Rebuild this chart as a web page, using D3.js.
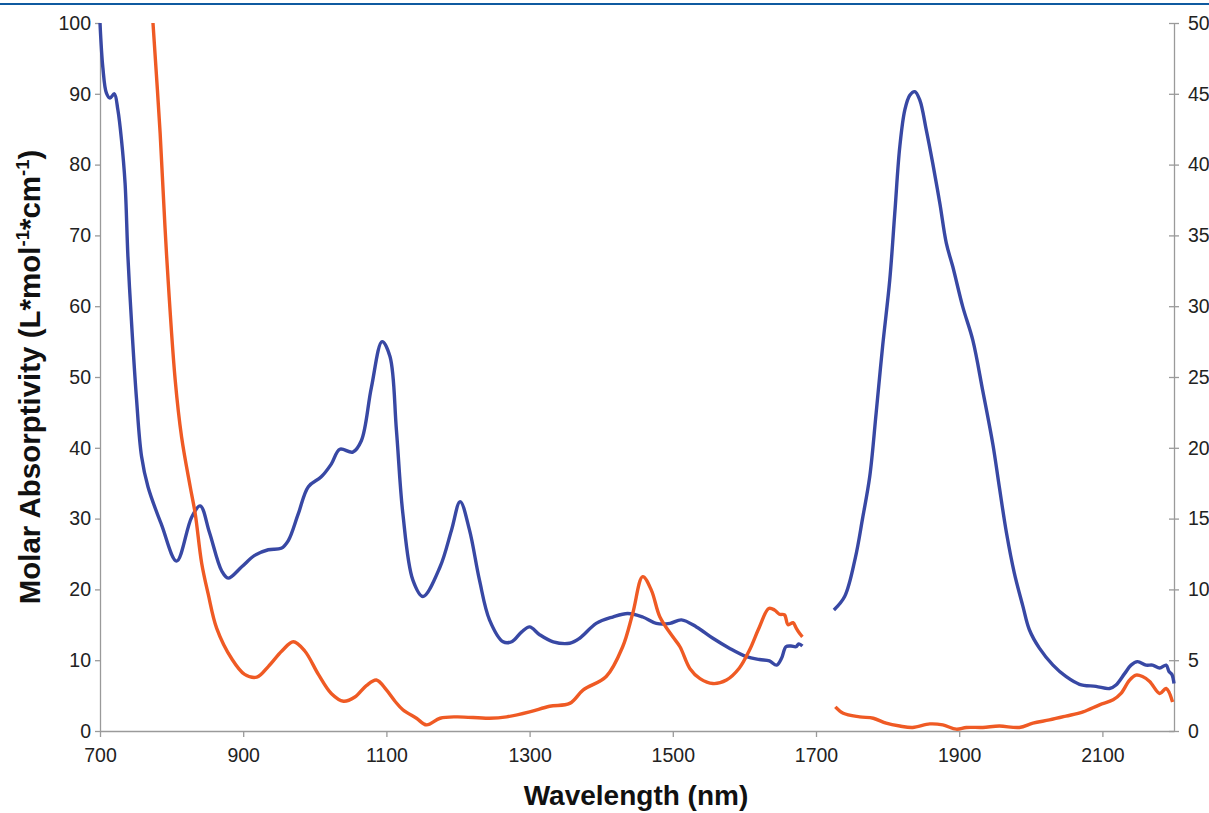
<!DOCTYPE html>
<html>
<head>
<meta charset="utf-8">
<script src="https://cdn.jsdelivr.net/npm/d3@7"></script>
<style>
  body { margin: 0; background: #fff; }
  svg { font-family: Arial, "Liberation Sans", Helvetica, sans-serif; }
</style>
</head>
<body>
<div id="chart"></div>
<script>
// wavelength (nm) / molar absorptivity, null = gap in the measurement
const blueNm = [700, 704, 709, 714, 720, 725, 730, 735, 739, 744, 751, 758, 767, 786, 807, 828, 840, 853, 870, 879,
  898, 916, 935, 953, 963, 977, 991, 1009, 1023, 1035, 1053, 1065, 1079, 1094, 1105, 1114, 1123, 1137, 1151, 1175,
  1191, 1203, 1216, 1230, 1244, 1263, 1275, 1289, 1300, 1314, 1333, 1356, 1370, 1393, 1416, 1437, 1458, 1477, 1496, 1512,
  1533, 1556, 1579, 1603, 1621, 1635, 1645, 1652, 1658, 1665, 1672, 1676, 1681, 1700,
  1725, 1740, 1755, 1765, 1775, 1784, 1793, 1803, 1810, 1817, 1824, 1831, 1838, 1845, 1854, 1863, 1873, 1882, 1891, 1905,
  1919, 1933, 1947, 1956, 1966, 1977, 1989, 1998, 2012, 2031, 2049, 2068, 2091, 2110, 2119, 2131, 2140, 2149, 2161, 2170,
  2180, 2189, 2193, 2197, 2200]
const blueVal = [100, 93.7, 90.1, 89.4, 90, 87.7, 83.5, 77.4, 67, 57.8, 46.9, 38.8, 34.5, 29.1, 24.0, 30.2, 31.8, 28, 22.6, 21.6,
  23.2, 24.8, 25.6, 25.8, 26.9, 30.7, 34.5, 35.9, 37.7, 39.8, 39.4, 41, 48.5, 55, 52.9, 42.5, 30.7, 21.3, 19.0, 23.2,
  28.4, 32.4, 28.4, 21.3, 15.7, 12.6, 12.6, 14.0, 14.7, 13.6, 12.6, 12.4, 13.1, 15.2, 16.1, 16.6, 16.1, 15.2, 15.2, 15.7,
  14.7, 13.1, 11.7, 10.5, 10.1, 9.9, 9.3, 10.3, 11.9, 12.0, 11.9, 12.3, 12.0, null,
  17.1, 19, 24.5, 30, 35.9, 44.9, 54.3, 63.7, 73.1, 82.5, 87.7, 89.8, 90.3, 89.1, 84.9, 80.2, 74.5, 68.9, 65.6, 59.9,
  55.2, 48, 40.5, 34.5, 28, 22.3, 17.6, 14.3, 11.7, 9.3, 7.7, 6.6, 6.3, 6.0, 6.5, 8.1, 9.3, 9.8, 9.3, 9.3,
  8.9, 9.3, 8.4, 8.0, 6.7]

// second sample, read against the right axis
const orangeNm = [774, 784, 793, 805, 814, 826, 833, 842, 851, 863, 884, 902, 919, 935, 954, 970, 986, 1005, 1023,
  1040, 1056, 1072, 1086, 1100, 1112, 1123, 1142, 1156, 1175, 1198, 1244, 1268, 1300, 1328, 1356, 1375, 1407, 1430, 1444,
  1458, 1470, 1482, 1500, 1510, 1524, 1538, 1556, 1575, 1593, 1607, 1621, 1634, 1642, 1649, 1656, 1661, 1668, 1672, 1677,
  1681, 1700,
  1727, 1738, 1761, 1780, 1798, 1817, 1835, 1859, 1877, 1896, 1910, 1933, 1956, 1984, 2003, 2026, 2049, 2073, 2096, 2115,
  2126, 2138, 2147, 2156, 2166, 2180, 2189, 2198]
const orangeVal = [50, 42.2, 33.6, 24.8, 20.75, 17.25, 15.35, 11.85, 9.7, 7.25, 5.1, 4.0, 3.8, 4.55, 5.65, 6.3, 5.65, 4.0, 2.65,
  2.1, 2.4, 3.2, 3.6, 2.9, 2.1, 1.5, 0.9, 0.43, 0.9, 1.0, 0.9, 1.0, 1.35, 1.75, 1.95, 2.9, 3.85, 5.95, 8.3,
  10.9, 9.95, 8.05, 6.65, 5.95, 4.4, 3.7, 3.35, 3.6, 4.45, 5.7, 7.35, 8.65, 8.55, 8.25, 8.2, 7.5, 7.65, 7.3, 6.9,
  6.65, null,
  1.7, 1.25, 1.0, 0.9, 0.55, 0.35, 0.25, 0.5, 0.43, 0.13, 0.25, 0.25, 0.35, 0.25, 0.55, 0.78, 1.05, 1.35, 1.85, 2.2,
  2.65, 3.6, 3.95, 3.85, 3.5, 2.65, 3.0, 2.05]

const xTicks = [700, 900, 1100, 1300, 1500, 1700, 1900, 2100]
const leftTicks = [0, 10, 20, 30, 40, 50, 60, 70, 80, 90, 100]
const rightTicks = [0, 5, 10, 15, 20, 25, 30, 35, 40, 45, 50]

const dimensions = ({
  width: 1209,
  height: 813,
  margin: { top: 23, right: 35, bottom: 82, left: 100 }
})
const w = dimensions.width - dimensions.margin.left - dimensions.margin.right
const h = dimensions.height - dimensions.margin.top - dimensions.margin.bottom

const x = d3.scaleLinear().domain([700, 2200]).range([0, w])
const yLeft = d3.scaleLinear().domain([0, 100]).range([h, 0])
const yRight = d3.scaleLinear().domain([0, 50]).range([h, 0])

const blue = blueNm.map((d, i) => ({ nm: d, v: blueVal[i] }))
const orange = orangeNm.map((d, i) => ({ nm: d, v: orangeVal[i] }))

const root = d3.select("#chart")
  .append("svg")
    .attr("width", dimensions.width)
    .attr("height", dimensions.height)

// blue rule across the top of the figure
root.append("rect")
  .attr("x", 0).attr("y", 3)
  .attr("width", dimensions.width).attr("height", 2)
  .attr("fill", "#0f5aa0")

const svg = root.append("g")
  .attr("transform", "translate(" + dimensions.margin.left + "," + dimensions.margin.top + ")")

const axisColor = "#9a9a9a"

const styleAxis = g => {
  g.attr("font-size", null)
  g.select(".domain").attr("stroke", axisColor).attr("stroke-width", 1.3)
  g.selectAll(".tick line").attr("stroke", axisColor).attr("stroke-width", 1.3)
  g.selectAll(".tick text").attr("fill", "#222").style("font-size", "19.5px")
}

svg.append("g")
  .attr("transform", "translate(0," + h + ")")
  .call(d3.axisBottom(x).tickValues(xTicks).tickFormat(d3.format("d")).tickSize(6).tickPadding(11).tickSizeOuter(0))
  .call(styleAxis)

svg.append("g")
  .call(d3.axisLeft(yLeft).tickValues(leftTicks).tickSize(5).tickPadding(4).tickSizeOuter(0))
  .call(styleAxis)

const right = svg.append("g")
  .attr("transform", "translate(" + w + ",0)")
  .call(d3.axisRight(yRight).tickValues(rightTicks).tickSize(5).tickPadding(9).tickSizeOuter(0))
  .call(styleAxis)
// right ticks cross the axis
right.selectAll(".tick line").attr("x1", -5)

const line = yScale => d3.line()
  .defined(d => d.v !== null)
  .x(d => x(d.nm))
  .y(d => yScale(d.v))
  .curve(d3.curveCatmullRom.alpha(0.5))

svg.append("path")
  .datum(blue)
  .attr("fill", "none")
  .attr("stroke", "#3848a4")
  .attr("stroke-width", 3.4)
  .attr("stroke-linejoin", "round")
  .attr("d", line(yLeft))

svg.append("path")
  .datum(orange)
  .attr("fill", "none")
  .attr("stroke", "#ef5a24")
  .attr("stroke-width", 3.4)
  .attr("stroke-linejoin", "round")
  .attr("d", line(yRight))

// axis titles
svg.append("text")
  .attr("x", 536)
  .attr("y", h + 74)
  .attr("text-anchor", "middle")
  .style("font-size", "28px")
  .style("font-weight", "bold")
  .attr("fill", "#111")
  .text("Wavelength (nm)")

const yTitle = svg.append("text")
  .attr("transform", "translate(-60," + (377 - dimensions.margin.top) + ") rotate(-90)")
  .attr("text-anchor", "middle")
  .style("font-size", "29.5px")
  .style("font-weight", "bold")
  .attr("fill", "#111")
yTitle.append("tspan").text("Molar Absorptivity (L*mol")
yTitle.append("tspan").attr("dy", -11).style("font-size", "18.5px").text("-1")
yTitle.append("tspan").attr("dy", 11).text("*cm")
yTitle.append("tspan").attr("dy", -11).style("font-size", "18.5px").text("-1")
yTitle.append("tspan").attr("dy", 11).text(")")
</script>
</body>
</html>
